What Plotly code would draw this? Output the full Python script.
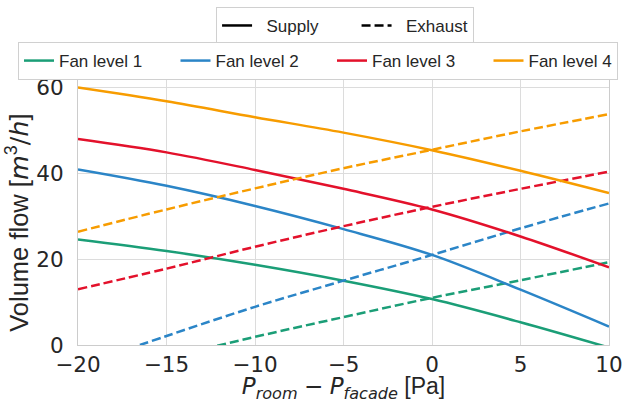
import plotly.graph_objects as go

x = [-20, -15, -10, -5, 0, 5, 10]

supply_1 = [24.6, 21.9, 18.7, 15.0, 10.7, 5.3, -0.6]
supply_2 = [40.9, 37.1, 32.4, 27.0, 21.0, 12.9, 4.3]
supply_3 = [48.0, 44.9, 40.8, 36.4, 31.6, 25.3, 18.1]
supply_4 = [60.0, 56.8, 53.1, 49.5, 45.4, 40.6, 35.4]

exhaust_1 = [-7.8, -3.0, 1.9, 6.5, 11.0, 15.1, 19.3]
exhaust_2 = [-5.0, 2.1, 8.9, 15.0, 21.0, 27.2, 33.0]
exhaust_3 = [13.0, 17.8, 22.9, 27.7, 32.2, 36.4, 40.4]
exhaust_4 = [26.4, 31.6, 36.5, 41.2, 45.5, 49.8, 53.8]

levels = ["Fan level 1", "Fan level 2", "Fan level 3", "Fan level 4"]
colors = ["#1b9e77", "#2b85c7", "#e3112b", "#f79c00"]
supplies = [supply_1, supply_2, supply_3, supply_4]
exhausts = [exhaust_1, exhaust_2, exhaust_3, exhaust_4]
styles = ["Supply", "Exhaust"]
xticks = [-20, -15, -10, -5, 0, 5, 10]
xticklabels = ["\u221220", "\u221215", "\u221210", "\u22125", "0", "5", "10"]
yticks = [0, 20, 40, 60]

FONT = "Liberation Sans, Arial, sans-serif"
MATH = "DejaVu Sans"
TXT = "#262626"
NB = "\u00a0"


def m(t):
    return '<span style="font-family:%s"><i>%s</i></span>' % (MATH, t)


fig = go.Figure()

for i, (name, c, s, e) in enumerate(zip(levels, colors, supplies, exhausts)):
    label = name + (NB * 6 if i < len(levels) - 1 else "")
    fig.add_trace(go.Scatter(x=x, y=s, mode="lines", name=label, legend="legend2",
                             line=dict(color=c, width=2.5, shape="spline"), showlegend=True))
    fig.add_trace(go.Scatter(x=x, y=e, mode="lines", name=label, legend="legend2",
                             line=dict(color=c, width=2.5, dash="9px,4px", shape="spline"),
                             showlegend=False))

fig.add_trace(go.Scatter(x=[None], y=[None], mode="lines", name=NB * 2 + styles[0] + NB * 7,
                         legend="legend", line=dict(color="black", width=2.5)))
fig.add_trace(go.Scatter(x=[None], y=[None], mode="lines", name=NB * 2 + styles[1],
                         legend="legend", line=dict(color="black", width=2.5, dash="9px,4px")))

axis_common = dict(showgrid=True, gridcolor="#dcdcdc", gridwidth=1,
                   showline=True, linecolor="#cccccc", linewidth=1.25, mirror=True,
                   zeroline=False, ticks="", automargin=False, ticklabeloverflow="allow",
                   tickfont=dict(size=21.5, color=TXT, family=MATH))

xtitle = m("P") + "<sub>" + m("room") + "</sub> " + '<span style="font-family:%s">\u2212</span> ' % MATH \
    + m("P") + "<sub>" + m("facade") + "</sub> [Pa]"
ytitle = "Volume flow [" + m("m") + "<sup>3</sup>" + '<span style="font-family:%s">/</span>' % MATH \
    + m("h") + "]" + NB * 3 + "\u200b"

fig.update_layout(
    width=622, height=403,
    margin=dict(l=78, r=13, t=79, b=58, autoexpand=False),
    plot_bgcolor="white", paper_bgcolor="white",
    font=dict(family=FONT, color=TXT),
    xaxis=dict(range=[-20, 10], tickvals=xticks, ticktext=xticklabels,
               ticklabelstandoff=0,
               title=dict(text=xtitle, font=dict(size=23, color=TXT, family=FONT), standoff=0),
               **axis_common),
    yaxis=dict(range=[0, 62], tickvals=yticks, ticklabelstandoff=9,
               title=dict(text=ytitle, font=dict(size=25.5, color=TXT, family=FONT), standoff=0),
               **axis_common),
    legend=dict(orientation="h", x=0.26, xanchor="left", y=1.271, yanchor="top",
                bgcolor="white", bordercolor="#d0d0d0", borderwidth=1,
                font=dict(size=17, color=TXT, family=FONT)),
    legend2=dict(orientation="h", x=-0.113, xanchor="left", y=1.139, yanchor="top",
                 bgcolor="white", bordercolor="#d0d0d0", borderwidth=1,
                 font=dict(size=17, color=TXT, family=FONT)),
)

fig.write_html("out.html")
